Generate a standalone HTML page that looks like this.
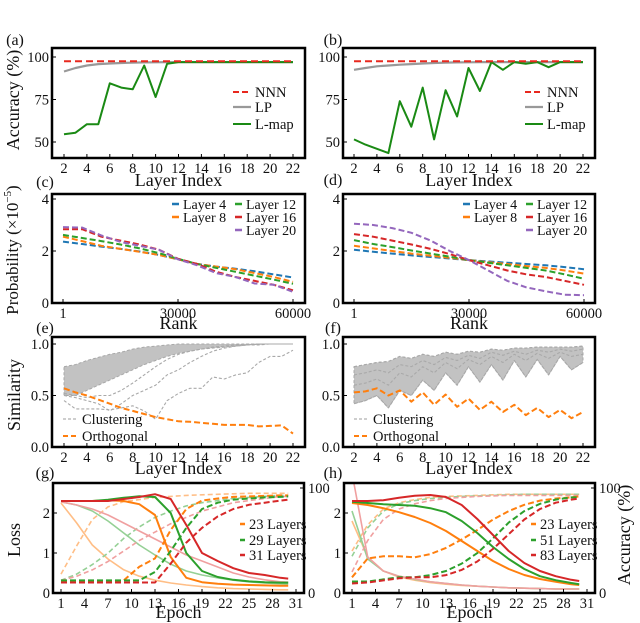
<!DOCTYPE html>
<html><head><meta charset="utf-8">
<style>
html,body{margin:0;padding:0;background:#fff;}
svg{display:block;font-family:"Liberation Serif","DejaVu Serif",serif;}
</style></head>
<body>
<svg id="fig" width="640" height="623" viewBox="0 0 640 623" xmlns="http://www.w3.org/2000/svg"></svg>
<script>
// ---------- data ----------
const layers = [2,3,4,5,6,7,8,9,10,11,12,13,14,15,16,17,18,19,20,21,22];
const aNNN = [97.5,97.5,97.5,97.5,97.5,97.5,97.5,97.5,97.5,97.5,97.5,97.5,97.5,97.5,97.5,97.5,97.5,97.5,97.5,97.5,97.5];
const aLP = [91.5,93.5,95,95.8,96.2,96.5,96.7,96.8,96.9,97,97,97,97,97,97,97,97,97,97,97,97];
const aLmap = [54.5,55.5,60.5,60.5,84.5,82,81,95,76.5,96,97,97,97,97,97,97,97,97,97,97,97];
const bNNN = [97.5,97.5,97.5,97.5,97.5,97.5,97.5,97.5,97.5,97.5,97.5,97.5,97.5,97.5,97.5,97.5,97.5,97.5,97.5,97.5,97.5];
const bLP = [92.5,93.5,94.5,95,95.5,95.8,96.2,96.5,96.7,96.8,96.9,97,97,97,97,97,97,97,97,97,97];
const bLmap = [51.5,48.5,46,43.5,74,59,82,51.5,80.5,65,93.5,80,97,92.5,97,96,97,94,97,97,97];

const ranks = [1,5000,10000,15000,20000,25000,30000,35000,40000,45000,50000,55000,60000];
const cL4 = [2.36,2.27,2.17,2.08,1.98,1.85,1.68,1.5,1.4,1.32,1.22,1.1,0.98];
const cL8 = [2.55,2.38,2.2,2.08,1.97,1.85,1.68,1.5,1.4,1.3,1.15,1.0,0.81];
const cL12 = [2.62,2.5,2.38,2.25,2.1,1.92,1.7,1.5,1.35,1.2,1.05,0.9,0.74];
const cL16 = [2.84,2.84,2.55,2.4,2.25,2.05,1.7,1.5,1.2,1.0,0.85,0.7,0.49];
const cL20 = [2.92,2.9,2.6,2.35,2.2,2.05,1.68,1.45,1.15,1.0,0.75,0.7,0.43];
const dL4 = [2.05,1.97,1.9,1.83,1.77,1.71,1.65,1.6,1.55,1.5,1.45,1.38,1.3];
const dL8 = [2.2,2.1,2.0,1.9,1.82,1.74,1.65,1.57,1.5,1.42,1.35,1.25,1.13];
const dL12 = [2.42,2.27,2.15,2.02,1.9,1.78,1.65,1.55,1.45,1.35,1.25,1.1,0.93];
const dL16 = [2.65,2.55,2.4,2.25,2.08,1.88,1.65,1.45,1.25,1.1,1.0,0.85,0.7];
const dL20 = [3.05,3.0,2.88,2.7,2.4,2.0,1.65,1.25,0.85,0.6,0.45,0.32,0.3];

const eUpper = [0.78,0.8,0.84,0.87,0.9,0.92,0.95,0.97,0.98,0.99,1,1,1,1,1,1,1,1,1,1,1];
const eLower = [0.5,0.5,0.55,0.6,0.65,0.7,0.75,0.8,0.84,0.88,0.91,0.93,0.95,0.96,0.97,0.98,0.99,0.99,1,1,1];
const eOut1 = [0.45,0.37,0.37,0.37,0.36,0.38,0.4,0.35,0.27,0.45,0.52,0.57,0.57,0.68,0.66,0.7,0.72,0.82,0.88,0.88,0.94];
const eOut2 = [0.5,0.48,0.45,0.42,0.35,0.42,0.5,0.55,0.6,0.7,0.75,0.82,0.88,0.93,0.96,0.98,0.99,1,1,1,1];
const eOut3 = [0.52,0.5,0.48,0.5,0.5,0.55,0.62,0.7,0.78,0.85,0.9,0.93,0.95,0.97,0.98,0.99,1,1,1,1,1];
const eOrth = [0.57,0.53,0.5,0.46,0.42,0.38,0.35,0.32,0.29,0.27,0.25,0.245,0.235,0.225,0.215,0.215,0.215,0.2,0.205,0.21,0.13];
const fUpper = [0.78,0.8,0.82,0.83,0.88,0.86,0.9,0.88,0.92,0.9,0.93,0.92,0.95,0.94,0.96,0.96,0.97,0.97,0.97,0.97,0.98];
const fLower = [0.42,0.45,0.5,0.38,0.55,0.5,0.65,0.55,0.72,0.6,0.78,0.63,0.8,0.65,0.84,0.68,0.85,0.7,0.88,0.75,0.82];
const fMid1 = [0.6,0.62,0.66,0.6,0.72,0.68,0.78,0.72,0.82,0.76,0.85,0.8,0.88,0.82,0.9,0.84,0.91,0.86,0.92,0.88,0.9];
const fMid2 = [0.7,0.72,0.75,0.72,0.8,0.78,0.84,0.8,0.87,0.84,0.89,0.86,0.92,0.89,0.93,0.9,0.94,0.92,0.95,0.93,0.95];
const fOrth = [0.53,0.54,0.57,0.5,0.55,0.44,0.53,0.41,0.51,0.39,0.47,0.36,0.44,0.34,0.41,0.31,0.38,0.29,0.36,0.28,0.34];

const epochs = [1,3,5,7,9,11,13,15,17,19,21,23,25,27,29,30];
const gLossO = [2.3,2.3,2.3,2.32,2.3,2.22,1.95,0.9,0.38,0.27,0.23,0.21,0.2,0.19,0.18,0.18];
const gLossG = [2.3,2.3,2.3,2.33,2.38,2.42,2.4,2.0,1.0,0.55,0.4,0.33,0.29,0.27,0.26,0.26];
const gLossR = [2.3,2.3,2.3,2.3,2.35,2.4,2.47,2.35,1.7,1.0,0.8,0.62,0.5,0.45,0.38,0.36];
const gAccO = [11,11,11,11,12,25,33,60,80,88,90,91.5,92,92.5,93,93];
const gAccG = [12,12,12,12,12,12,20,40,62,80,86,89,90,91,91.5,92];
const gAccR = [10,10,10,10,10,10,10,28,48,62,73,80,84,86,88,89];
const gBLossO = [2.25,1.75,1.2,0.85,0.58,0.42,0.32,0.25,0.2,0.16,0.13,0.11,0.1,0.09,0.08,0.08];
const gBLossG = [2.28,2.2,2.05,1.8,1.5,1.2,0.95,0.72,0.55,0.45,0.38,0.32,0.28,0.25,0.23,0.22];
const gBLossR = [2.28,2.2,2.1,1.95,1.75,1.55,1.35,1.15,0.95,0.8,0.65,0.5,0.4,0.33,0.28,0.27];
const gBAccO = [18,45,70,82,87,89,91,92,93,93.5,94,94.5,95,95,95,95];
const gBAccG = [12,18,27,38,52,63,72,78,83,86,88,90,91,92,93,93];
const gBAccR = [12,16,22,30,40,50,58,66,72,78,82,86,88,90,92,92];

const hLossO = [2.25,2.2,2.12,2.02,1.9,1.75,1.55,1.3,1.05,0.8,0.6,0.45,0.35,0.28,0.22,0.2];
const hLossG = [2.28,2.25,2.22,2.2,2.18,2.12,2.02,1.8,1.5,1.15,0.85,0.6,0.42,0.32,0.25,0.22];
const hLossR = [2.3,2.3,2.32,2.38,2.43,2.45,2.4,2.2,1.85,1.45,1.05,0.75,0.55,0.42,0.33,0.3];
const hAccO = [15,33,35,35,34,37,43,51,60,70,78,84,88,90,91,92];
const hAccG = [11,11,13,15,15,17,21,28,38,52,67,78,85,89,91,91];
const hAccR = [9,10,12,14,15,15,17,22,30,42,56,70,80,86,89,90];
const hBLossO = [1.8,0.9,0.55,0.4,0.32,0.26,0.22,0.19,0.17,0.15,0.13,0.12,0.11,0.1,0.1,0.1];
const hBLossG = [2.05,0.85,0.55,0.42,0.34,0.28,0.24,0.2,0.17,0.15,0.13,0.12,0.11,0.1,0.1,0.1];
const hBLossR = [3.0,0.9,0.55,0.42,0.35,0.28,0.24,0.2,0.17,0.15,0.13,0.12,0.11,0.1,0.1,0.1];
const hBAccO = [40,65,80,86,89,91,92,92.5,93,93.5,94,94,94,94,94,94];
const hBAccG = [35,62,78,85,88,90,91,92,92.5,93,93.5,94,94,94,94,94];
const hBAccR = [20,50,70,80,85,88,90,91,92,92.5,93,93,93,93,93,93];

// ---------- helpers ----------
const NS = "http://www.w3.org/2000/svg";
const svg = document.getElementById('fig');
function el(tag, parent, attrs){ const e=document.createElementNS(NS,tag); for(const k in attrs) e.setAttribute(k,attrs[k]); parent.appendChild(e); return e; }
function mkScale(d0,d1,p0,p1){ return v => p0 + (v-d0)*(p1-p0)/(d1-d0); }
let clipId = 0;
function panel(name, box, sx, sy){
  const g = el('g', svg, {});
  
  
  clipId++;
  const cp = el('clipPath', g, {id:'cp'+clipId});
  el('rect', cp, {x:box[0], y:box[1], width:box[2]-box[0], height:box[3]-box[1]});
  const plot = el('g', g, {'clip-path':'url(#cp'+clipId+')'});
  return {g, plot, box, sx, sy};
}
function frame(P){
  const b=P.box;
  const r = el('rect', P.g, {x:b[0], y:b[1], width:b[2]-b[0], height:b[3]-b[1], fill:'none', stroke:'#000', 'stroke-width':2.5});
  
  
}
function txt(parent, x, y, s, size, anchor, extra){
  const t = el('text', parent, Object.assign({x, y, 'font-size':size, 'text-anchor':anchor||'middle', fill:'#111'}, extra||{}));
  t.textContent = s;
  return t;
}
function xTicks(P, vals, labels){
  const b=P.box;
  vals.forEach((v,i)=>{
    const x=P.sx(v);
    el('line', P.g, {x1:x, x2:x, y1:b[3], y2:b[3]-4, stroke:'#000', 'stroke-width':1});
    const t = txt(P.g, x, b[3]+15, labels[i], 14.5);
    
    
  });
}
function yTicks(P, vals, labels, scale, right){
  const b=P.box; const sc = scale||P.sy;
  vals.forEach((v,i)=>{
    const y=sc(v);
    const x0 = right? b[2] : b[0];
    el('line', P.g, {x1:x0, x2:right? x0-4 : x0+4, y1:y, y2:y, stroke:'#000', 'stroke-width':1});
    const t = txt(P.g, right? b[2]+4 : b[0]-3, y+5, labels[i], 14.5, right?'start':'end');
    
    
  });
}
function series(P, xs, ys, style, name, scale){
  const sc = scale||P.sy;
  let d = '';
  xs.forEach((x,i)=>{ d += (i?'L':'M') + P.sx(x).toFixed(1) + ',' + sc(ys[i]).toFixed(1); });
  const p = el('path', P.plot, Object.assign({d, fill:'none', 'stroke-linejoin':'round'}, style));
  
  
  return p;
}
function band(P, xs, up, lo, name){
  let d='';
  xs.forEach((x,i)=>{ d += (i?'L':'M') + P.sx(x).toFixed(1)+','+P.sy(up[i]).toFixed(1); });
  for(let i=xs.length-1;i>=0;i--){ d += 'L'+P.sx(xs[i]).toFixed(1)+','+P.sy(lo[i]).toFixed(1); }
  d+='Z';
  const p = el('path', P.plot, {d, fill:'#c2c2c2', stroke:'#a8a8a8', 'stroke-width':1, 'stroke-dasharray':'3,2'});
  
  
}
function legendItem(parent, x, y, len, style, label, size){
  const g = el('g', parent, {});
  
  
  el('line', g, Object.assign({x1:x, x2:x+len, y1:y, y2:y}, style));
  txt(g, x+len+4, y+5, label, size||14.5, 'start');
}
function panelLabel(x,y,s){
  const t = txt(svg, x, y, s, 16);
  
  
}
function axisTitle(x,y,s,rot,size){
  const t = txt(svg, x, y, '', size||17, 'middle', rot? {transform:'rotate(-90 '+x+' '+y+')'}:{});
  t.textContent = s;
  
  
  return t;
}

const RED='#e8281e', GRAY='#999999', GREEN='#1a8a14';
const cBlue='#1f77b4', cOrange='#ff7f0e', cGreen='#2ca02c', cRed='#d62728', cPurple='#9467bd';
const layerTicks=[2,4,6,8,10,12,14,16,18,20,22];
const layerLabels=['2','4','6','8','10','12','14','16','18','20','22'];

// ---------- (a),(b) ----------
[['a',[52,48,305,158],64,293,aNNN,aLP,aLmap],['b',[343,48,595,158],354,583,bNNN,bLP,bLmap]].forEach(cfg=>{
  const [id,box,x2,x22,nnn,lp,lm]=cfg;
  const P = panel('accuracy-panel-'+id, box, mkScale(2,22,x2,x22), mkScale(50,100,142,57));
  series(P, layers, lp, {stroke:GRAY,'stroke-width':2.2}, 'lp-line');
  series(P, layers, lm, {stroke:GREEN,'stroke-width':2}, 'lmap-line');
  series(P, layers, nnn, {stroke:RED,'stroke-width':2,'stroke-dasharray':'7,4'}, 'nnn-line');
  frame(P);
  xTicks(P, layerTicks, layerLabels);
  yTicks(P, [50,75,100], ['50','75','100']);
  const lgx = id==='a'?233:525;
  legendItem(P.g, lgx, 92, 18, {stroke:RED,'stroke-width':2,'stroke-dasharray':'6,3'}, 'NNN');
  legendItem(P.g, lgx, 107, 18, {stroke:GRAY,'stroke-width':2.2}, 'LP');
  legendItem(P.g, lgx, 124, 18, {stroke:GREEN,'stroke-width':2}, 'L-map');
  axisTitle((box[0]+box[2])/2, 186, 'Layer Index', false, 18);
});
panelLabel(15,45,'(a)'); panelLabel(333,45,'(b)');
axisTitle(19,100,'Accuracy (%)',true,18);

// ---------- (c),(d) ----------
[['c',[52,194,305,303],63,293,[cL4,cL8,cL12,cL16,cL20]],['d',[343,194,595,303],354,584,[dL4,dL8,dL12,dL16,dL20]]].forEach(cfg=>{
  const [id,box,p1,p60,data]=cfg;
  const P = panel('probability-panel-'+id, box, mkScale(1,60000,p1,p60), mkScale(0,4,303,199));
  const cols=[cBlue,cOrange,cGreen,cRed,cPurple];
  const names=['layer-4-line','layer-8-line','layer-12-line','layer-16-line','layer-20-line'];
  data.forEach((ys,i)=>{
    series(P, ranks, ys, {stroke:cols[i],'stroke-width':2,'stroke-dasharray':'6,3'}, names[i]);
  });
  frame(P);
  xTicks(P, [1,30000,60000], ['1','30000','60000']);
  yTicks(P, [0,2,4], ['0','2','4']);
  const ox = box[0]-52;
  legendItem(P.g, 172+ox, 204, 7, {stroke:cBlue,'stroke-width':2.5}, 'Layer 4', 14);
  legendItem(P.g, 172+ox, 217, 7, {stroke:cOrange,'stroke-width':2.5}, 'Layer 8', 14);
  legendItem(P.g, 235+ox, 204, 7, {stroke:cGreen,'stroke-width':2.5}, 'Layer 12', 14);
  legendItem(P.g, 235+ox, 217, 7, {stroke:cRed,'stroke-width':2.5}, 'Layer 16', 14);
  legendItem(P.g, 235+ox, 230, 7, {stroke:cPurple,'stroke-width':2.5}, 'Layer 20', 14);
  axisTitle((box[0]+box[2])/2, 329, 'Rank', false, 18);
});
panelLabel(45,187,'(c)'); panelLabel(333,185,'(d)');
(function(){
  const t = txt(svg, 18, 250, '', 17, 'middle', {transform:'rotate(-90 18 250)'});
  
  
  const a = el('tspan', t, {}); a.textContent = 'Probability (×10';
  const b = el('tspan', t, {dy:-7, 'font-size':11}); b.textContent = '−5';
  const c = el('tspan', t, {dy:7}); c.textContent = ')';
})();

// ---------- (e),(f) ----------
[['e',[52,337,305,447],64,293],['f',[343,337,595,447],354,583]].forEach(cfg=>{
  const [id,box,x2,x22]=cfg;
  const P = panel('similarity-panel-'+id, box, mkScale(2,22,x2,x22), mkScale(0,1,447,344));
  const gs = {stroke:'#a9a9a9','stroke-width':1.1,'stroke-dasharray':'3,2'};
  if(id==='e'){
    band(P, layers, eUpper, eLower, 'clustering-band');
    series(P, layers, eOut1, gs, 'clustering-line');
    series(P, layers, eOut2, gs, 'clustering-line');
    series(P, layers, eOut3, gs, 'clustering-line');
    series(P, layers, eOrth, {stroke:cOrange,'stroke-width':2,'stroke-dasharray':'6,3'}, 'orthogonal-line');
  } else {
    band(P, layers, fUpper, fLower, 'clustering-band');
    series(P, layers, fUpper, gs, 'clustering-line');
    series(P, layers, fMid1, gs, 'clustering-line');
    series(P, layers, fMid2, gs, 'clustering-line');
    series(P, layers, fLower, gs, 'clustering-line');
    series(P, layers, fOrth, {stroke:cOrange,'stroke-width':2,'stroke-dasharray':'6,3'}, 'orthogonal-line');
  }
  frame(P);
  xTicks(P, layerTicks, layerLabels);
  yTicks(P, [0,0.5,1], ['0.0','0.5','1.0']);
  const ox = box[0]-52;
  legendItem(P.g, 63+ox, 419, 15, {stroke:'#b0b0b0','stroke-width':1.3,'stroke-dasharray':'3,2'}, 'Clustering', 14.5);
  legendItem(P.g, 63+ox, 436, 15, {stroke:cOrange,'stroke-width':2,'stroke-dasharray':'5,3'}, 'Orthogonal', 14.5);
  axisTitle((box[0]+box[2])/2, 474, 'Layer Index', false, 18);
});
panelLabel(45,333,'(e)'); panelLabel(333,333,'(f)');
axisTitle(20,395,'Similarity',true,18);

// ---------- (g),(h) ----------
[['g',[53,483,304,593],61,296],['h',[344,483,595,593],352,587]].forEach(cfg=>{
  const [id,box,e1,e31]=cfg;
  const P = panel('training-panel-'+id, box, mkScale(1,31,e1,e31), mkScale(0,2,593,513));
  const acc = mkScale(0,100,593,488);
  const lO='#ffbe86', lG='#95d095', lR='#f0a0a0';
  const D = id==='g'
    ? {L:[gLossO,gLossG,gLossR],A:[gAccO,gAccG,gAccR],BL:[gBLossO,gBLossG,gBLossR],BA:[gBAccO,gBAccG,gBAccR]}
    : {L:[hLossO,hLossG,hLossR],A:[hAccO,hAccG,hAccR],BL:[hBLossO,hBLossG,hBLossR],BA:[hBAccO,hBAccG,hBAccR]};
  const dark=[cOrange,cGreen,cRed], light=[lO,lG,lR];
  for(let i=0;i<3;i++){
    series(P, epochs, D.BL[i], {stroke:light[i],'stroke-width':1.6}, 'baseline-loss-line');
    series(P, epochs, D.BA[i], {stroke:light[i],'stroke-width':1.6,'stroke-dasharray':'5,3'}, 'baseline-accuracy-line', acc);
  }
  for(let i=0;i<3;i++){
    series(P, epochs, D.L[i], {stroke:dark[i],'stroke-width':2}, 'loss-line');
    series(P, epochs, D.A[i], {stroke:dark[i],'stroke-width':2,'stroke-dasharray':'6,3'}, 'accuracy-line', acc);
  }
  frame(P);
  xTicks(P, [1,4,7,10,13,16,19,22,25,28,31], ['1','4','7','10','13','16','19','22','25','28','31']);
  yTicks(P, [0,1,2], ['0','1','2']);
  yTicks(P, [0,100], ['0','100'], acc, true);
  const ox = box[0]-53;
  const labs = id==='g'?['23 Layers','29 Layers','31 Layers']:['23 Layers','51 Layers','83 Layers'];
  legendItem(P.g, 240+ox, 524, 5, {stroke:cOrange,'stroke-width':2.5}, labs[0], 14.5);
  legendItem(P.g, 240+ox, 540, 5, {stroke:cGreen,'stroke-width':2.5}, labs[1], 14.5);
  legendItem(P.g, 240+ox, 555, 5, {stroke:cRed,'stroke-width':2.5}, labs[2], 14.5);
  axisTitle((box[0]+box[2])/2, 618, 'Epoch', false, 18);
});
panelLabel(45,478,'(g)'); panelLabel(333,478,'(h)');
axisTitle(20,540,'Loss',true,18);
axisTitle(630,535,'Accuracy (%)',true,18);
</script>
</body></html>
